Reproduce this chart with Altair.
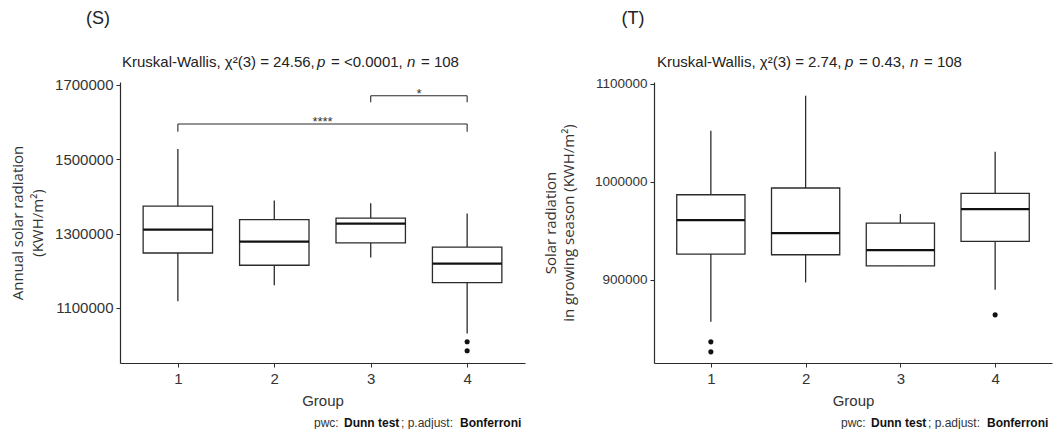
import altair as alt
import pandas as pd

# ---------------- data ----------------
groups = [1, 2, 3, 4]

# Panel S: annual solar radiation
s_lower = [1118000, 1161000, 1236000, 1031500]
s_q1 = [1248000, 1215000, 1275000, 1168000]
s_median = [1310700, 1278500, 1327000, 1219500]
s_q3 = [1374000, 1338000, 1342000, 1264000]
s_upper = [1528000, 1389000, 1382000, 1354000]
s_out_group = [4, 4]
s_out_value = [1009000, 985000]

s_br_from = [3, 1]
s_br_to = [4, 4]
s_br_y = [1671000, 1595000]
s_br_tip = [1653500, 1574000]
s_br_label = ["*", "****"]

# Panel T: solar radiation in growing season
t_lower = [857000, 897200, 914200, 889700]
t_q1 = [926200, 925500, 914200, 939200]
t_median = [960900, 947600, 930300, 972200]
t_q3 = [986800, 993700, 957900, 988200]
t_upper = [1052300, 1088000, 967100, 1030800]
t_out_group = [1, 1, 4]
t_out_value = [836500, 826300, 864100]

s_ticks = [1100000, 1300000, 1500000, 1700000]
t_ticks = [900000, 1000000, 1100000]
x_ticks = [1, 2, 3, 4]

s_tag = ["(S)"]
t_tag = ["(T)"]
# title pieces: normal, italic, normal, italic, normal
s_title = ["Kruskal-Wallis, χ²(3) = 24.56,", "p", "= <0.0001,", "n", "= 108"]
t_title = ["Kruskal-Wallis, χ²(3) = 2.74,", "p", "= 0.43,", "n", "= 108"]
s_ytitle = ["Annual solar radiation", "(KWH/m²)"]
t_ytitle = ["Solar radiation", "in growing season (KWH/m²)"]
x_title = "Group"
cap_parts = ["pwc:", "Dunn test", "; p.adjust:", "Bonferroni"]

# ---------------- layout / style ----------------
INK = "#2b2b2b"
TXT = "#333333"
SANS = "Liberation Sans"
OPEN = "Open Sans"
HALF_W = 0.36
S_TITLE_X = [2, 197, 211, 287, 301]
T_TITLE_X = [3, 191, 205, 256, 270]
CAP_X = [-211, -181, -124, -65]
CAP_BOLD = [False, True, False, True]


def text_layer(s, x, y, size, font=SANS, weight="normal", style="normal",
               align="left", baseline="alphabetic", color="#222222"):
    return alt.Chart(pd.DataFrame({"t": [s]})).mark_text(
        font=font, fontSize=size, fontWeight=weight, fontStyle=style,
        color=color, align=align, baseline=baseline
    ).encode(x=alt.value(x), y=alt.value(y), text="t:N")


def panel(lower, q1, med, q3, upper, og, ov, ydom, yticks, ytitle, tag, title,
          title_x, width, height, label_size, ytitle_pad, ytitle_lh, brackets=None):
    box_df = pd.DataFrame({"group": groups, "lower": lower, "q1": q1,
                           "median": med, "q3": q3, "upper": upper})
    out_df = pd.DataFrame({"group": og, "value": ov})

    xscale = alt.Scale(domain=[0.4, 4.6], nice=False, zero=False)
    yscale = alt.Scale(domain=ydom, nice=False, zero=False)
    xaxis = alt.Axis(values=x_ticks, format="d", title=x_title, grid=False,
                     labelFont=SANS, labelFontSize=15, labelColor=TXT,
                     titleFont=SANS, titleFontSize=15, titleColor=TXT,
                     titleFontWeight="normal", labelPadding=4, titlePadding=7,
                     tickSize=4, tickColor=INK, domainColor=INK, domainWidth=1.2)
    yaxis = alt.Axis(values=yticks, format="d", title=ytitle, grid=False,
                     labelFont=SANS, labelFontSize=label_size, labelColor=TXT,
                     titleFont=OPEN, titleFontSize=15, titleColor=TXT,
                     titleFontWeight="normal", titleLineHeight=ytitle_lh,
                     labelPadding=3, titlePadding=ytitle_pad,
                     tickSize=4, tickColor=INK, domainColor=INK, domainWidth=1.2)

    def X(f):
        return alt.X(f, type="quantitative", scale=xscale, axis=xaxis)

    def Y(f):
        return alt.Y(f, type="quantitative", scale=yscale, axis=yaxis)

    base = alt.Chart(box_df)
    whisk = base.mark_rule(color=INK, strokeWidth=1.3).encode(
        x=X("group"), y=Y("lower"), y2="upper")
    box = base.transform_calculate(
        left=f"datum.group - {HALF_W}", right=f"datum.group + {HALF_W}"
    ).mark_bar(fill="white", stroke=INK, strokeWidth=1.3).encode(
        x=X("left"), x2="right", y=Y("q1"), y2="q3")
    median = base.transform_calculate(
        left=f"datum.group - {HALF_W}", right=f"datum.group + {HALF_W}"
    ).mark_rule(color="#111111", strokeWidth=2.3).encode(
        x=X("left"), x2="right", y=Y("median"))
    outs = alt.Chart(out_df).mark_circle(size=26, color="#111111", opacity=1).encode(
        x=X("group"), y=Y("value"))

    layers = [whisk, box, median, outs]

    if brackets is not None:
        bf, bt, by, btip, blab = brackets
        br_df = pd.DataFrame({"from": bf, "to": bt, "y": by, "tip": btip, "label": blab})
        bb = alt.Chart(br_df)
        layers.append(bb.mark_rule(color=INK, strokeWidth=1.1).encode(
            x=X("from"), x2="to", y=Y("y")))
        layers.append(bb.mark_rule(color=INK, strokeWidth=1.1).encode(
            x=X("from"), y=Y("y"), y2="tip"))
        layers.append(bb.mark_rule(color=INK, strokeWidth=1.1).encode(
            x=X("to"), y=Y("y"), y2="tip"))
        layers.append(bb.transform_calculate(mid="(datum.from + datum.to) / 2").mark_text(
            font=SANS, fontSize=13, color=TXT, baseline="alphabetic", dy=2
        ).encode(x=X("mid"), y=Y("y"), text="label:N"))

    # panel tag
    layers.append(text_layer(tag[0], title_x[0] - 24, -63, 18, font=SANS,
                             align="center", baseline="middle"))
    # test title (italic p and n)
    for i, (s, xx) in enumerate(zip(title, title_x)):
        layers.append(text_layer(s, xx, -15, 15,
                                 style="italic" if i in (1, 3) else "normal"))
    # caption with bold parts
    cap_y = height + 64
    for s, xx, b in zip(cap_parts, CAP_X, CAP_BOLD):
        layers.append(text_layer(s, width + xx, cap_y, 12,
                                 weight="bold" if b else "normal",
                                 color="#111111" if b else "#333333"))

    return alt.layer(*layers).properties(width=width, height=height)


left = panel(s_lower, s_q1, s_median, s_q3, s_upper, s_out_group, s_out_value,
             [952000, 1708000], s_ticks, s_ytitle, s_tag, s_title, S_TITLE_X,
             405, 281, 15, 9, 20,
             brackets=(s_br_from, s_br_to, s_br_y, s_br_tip, s_br_label))
right = panel(t_lower, t_q1, t_median, t_q3, t_upper, t_out_group, t_out_value,
              [814900, 1102000], t_ticks, t_ytitle, t_tag, t_title, T_TITLE_X,
              398, 281, 13.5, 18, 18)

chart = alt.hconcat(left, right, spacing=18).resolve_scale(
    x="independent", y="independent"
).configure(
    padding={"left": 2, "top": 2, "right": 2, "bottom": 0}, background="white"
).configure_view(stroke=None)

chart.save("out.html", embed_options={"renderer": "svg", "actions": False})
